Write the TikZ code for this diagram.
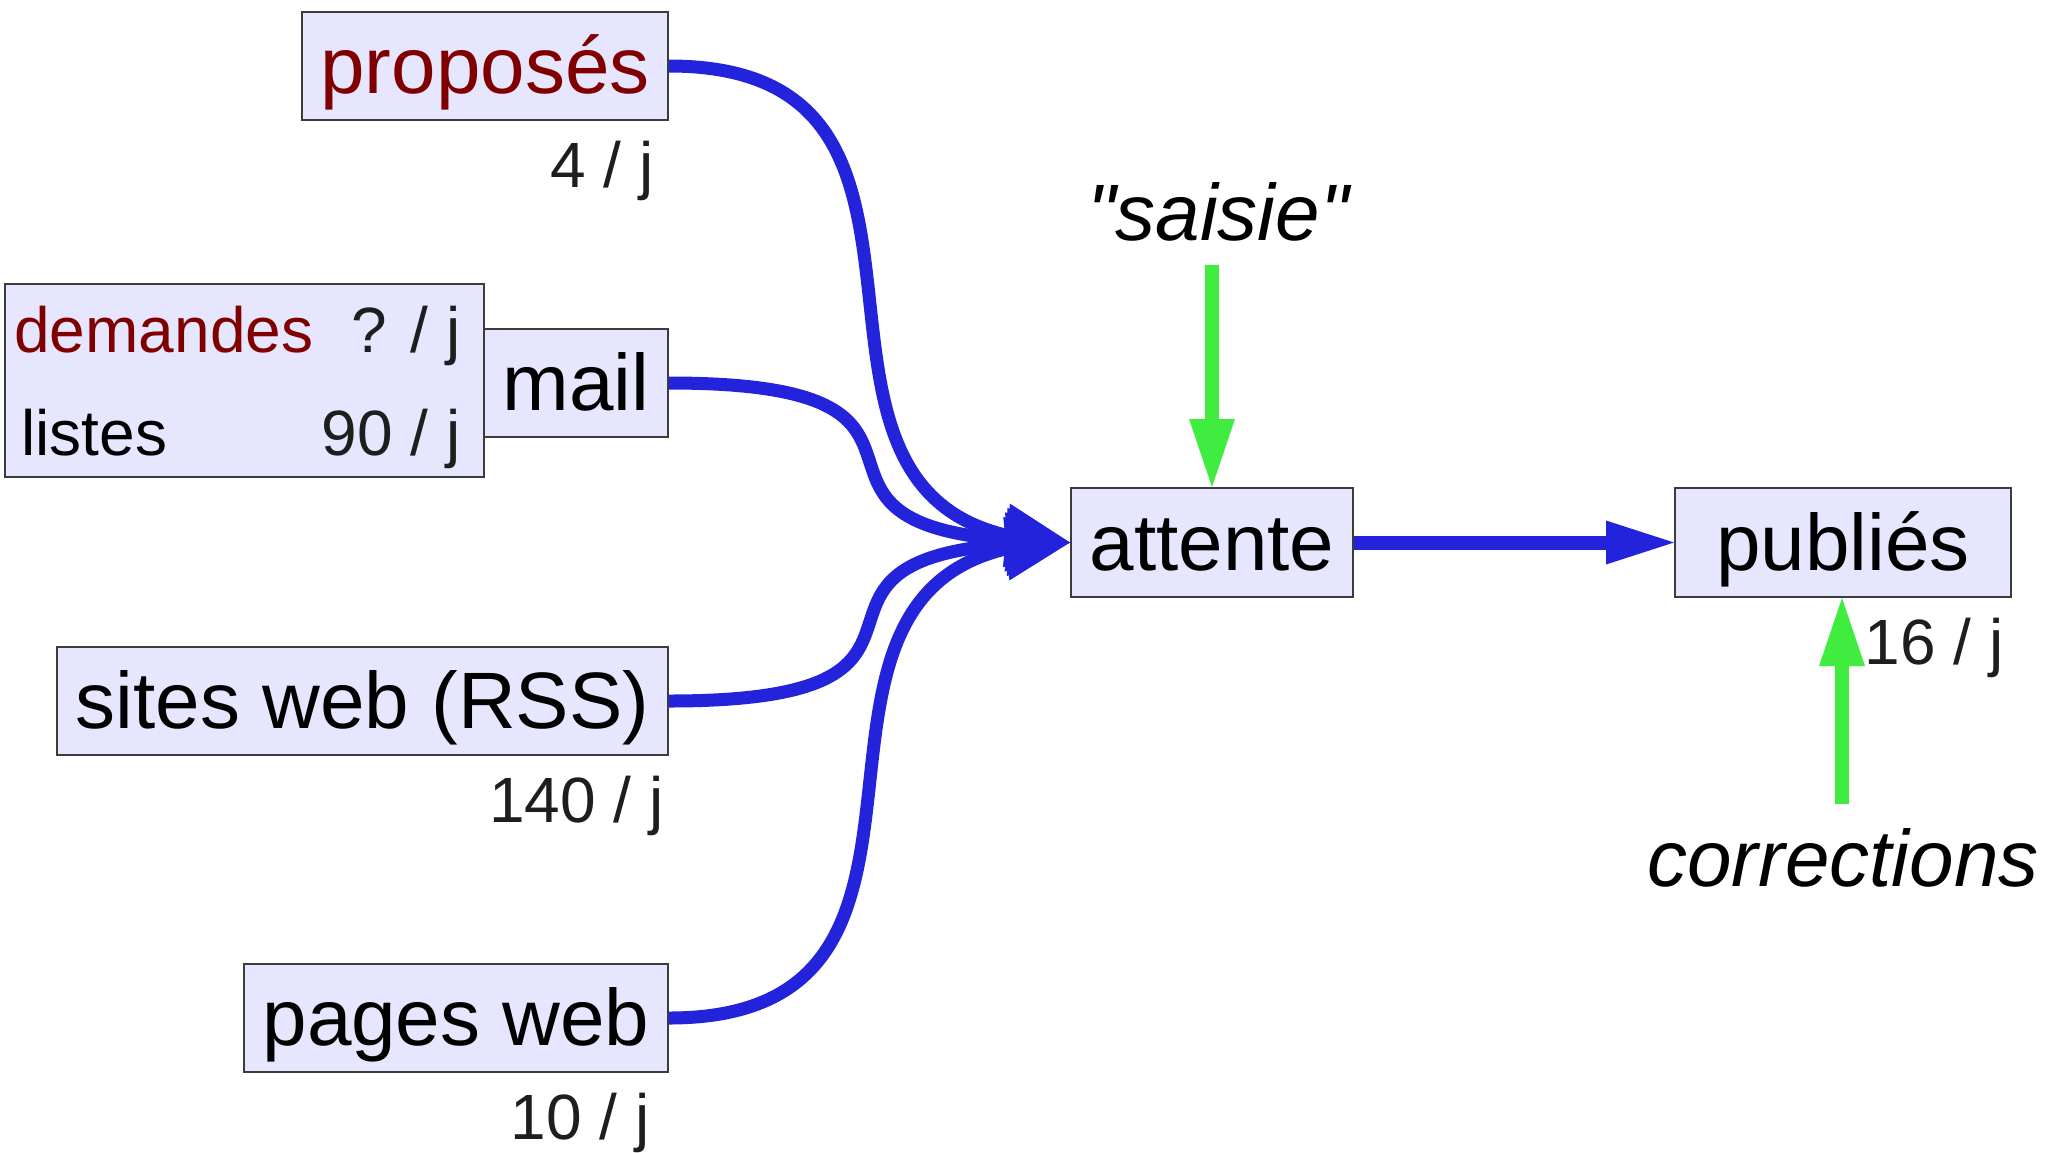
\documentclass[tikz,border=0pt]{standalone}
\usepackage{fontspec}
\setmainfont{Liberation Sans}[Ligatures=TeXOff]
\usetikzlibrary{arrows.meta}
\definecolor{boxfill}{HTML}{E6E6FF}
\definecolor{boxline}{HTML}{3C3C3C}
\definecolor{flow}{HTML}{2323DC}
\definecolor{grn}{HTML}{40EC40}
\definecolor{dred}{HTML}{800000}
\definecolor{lab}{HTML}{1E1E1E}
\newcommand{\bigf}{\fontsize{40}{48}\selectfont}
\newcommand{\smallf}{\fontsize{32}{38}\selectfont}
\begin{document}
\begin{tikzpicture}[x=0.5pt,y=-0.5pt,
  box/.style={draw=boxline, fill=boxfill, line width=1pt, inner sep=0pt, font=\bigf, text height=36.2pt, text depth=8.5pt},
  lbl/.style={inner sep=0pt, font=\smallf, text=lab},
  note/.style={inner sep=0pt, font=\bigf\itshape},
  flowline/.style={draw=flow, line width=6.5pt, line join=round, -{Triangle[length=32pt,width=32pt,line width=0pt]}},
  mainflow/.style={draw=flow, line width=7pt, -{Triangle[length=34pt,width=22pt,line width=0pt]}},
  greenarrow/.style={draw=grn, line width=7pt, -{Triangle[length=34pt,width=23pt,line width=0pt]}}
]
\useasboundingbox (0,0) rectangle (2045,1152);

% boxes
\node[box, minimum width=183pt, minimum height=54pt, text=dred] (prop) at (485,66) {proposés};
\node[box, minimum width=239.5pt, minimum height=96.5pt] (dembox) at (244.5,380.5) {};
\node[box, minimum width=92pt, minimum height=54pt] (mail) at (576,383) {mail};
\node[box, minimum width=305.5pt, minimum height=54pt] (sites) at (362.5,701) {sites web (RSS)};
\node[box, minimum width=212pt, minimum height=54pt] (pages) at (456,1018) {pages web};
\node[box, minimum width=141pt, minimum height=54.5pt] (att) at (1212,542.5) {attente};
\node[box, minimum width=168pt, minimum height=54.5pt] (pub) at (1843,542.5) {publiés};

% texts inside the demandes box
\node[lbl, text=dred, anchor=base west] (dem) at (14,352) {demandes};
\node[lbl, anchor=base east] (demrate) at (461,352) {? / j};
\node[lbl, text=black, anchor=base west] (listes) at (21,455) {listes};
\node[lbl, anchor=base east] (listrate) at (461,455) {90 / j};

% rate labels
\node[lbl, anchor=base east] (rprop) at (654,187) {4 / j};
\node[lbl, anchor=base east] (rsites) at (664,822) {140 / j};
\node[lbl, anchor=base east] (rpages) at (650,1139) {10 / j};
\node[lbl, anchor=base east] (rpub) at (2004,664) {16 / j};

% notes
\node[note, anchor=base] (saisie) at (1218,240) {"saisie"};
\node[note, anchor=base] (corr) at (1843,886) {corrections};
\coordinate (s0) at (1212,265);
\coordinate (c0) at (1842,804);

% points where the curved flows meet the back of their arrowheads
\coordinate (kprop) at (1007.4,535.5);
\coordinate (kmail) at (1007.4,539.8);
\coordinate (ksites) at (1007.4,544.2);
\coordinate (kpages) at (1007.4,548.5);

% flows
\draw[flowline] (prop.east) .. controls +(325.9,0) and (758.9,478.6) .. (kprop) -- (att.west);
\draw[flowline] (mail.east) .. controls +(325.9,0) and (758.9,520.8) .. (kmail) -- (att.west);
\draw[flowline] (sites.east) .. controls +(325.9,0) and (758.9,563.2) .. (ksites) -- (att.west);
\draw[flowline] (pages.east) .. controls +(325.9,0) and (758.9,605.4) .. (kpages) -- (att.west);
\draw[mainflow] (att.east) -- (pub.west);

% green arrows
\draw[greenarrow] (s0) -- (att.north);
\draw[greenarrow] (c0) -- (pub.south -| c0);
\end{tikzpicture}
\end{document}
